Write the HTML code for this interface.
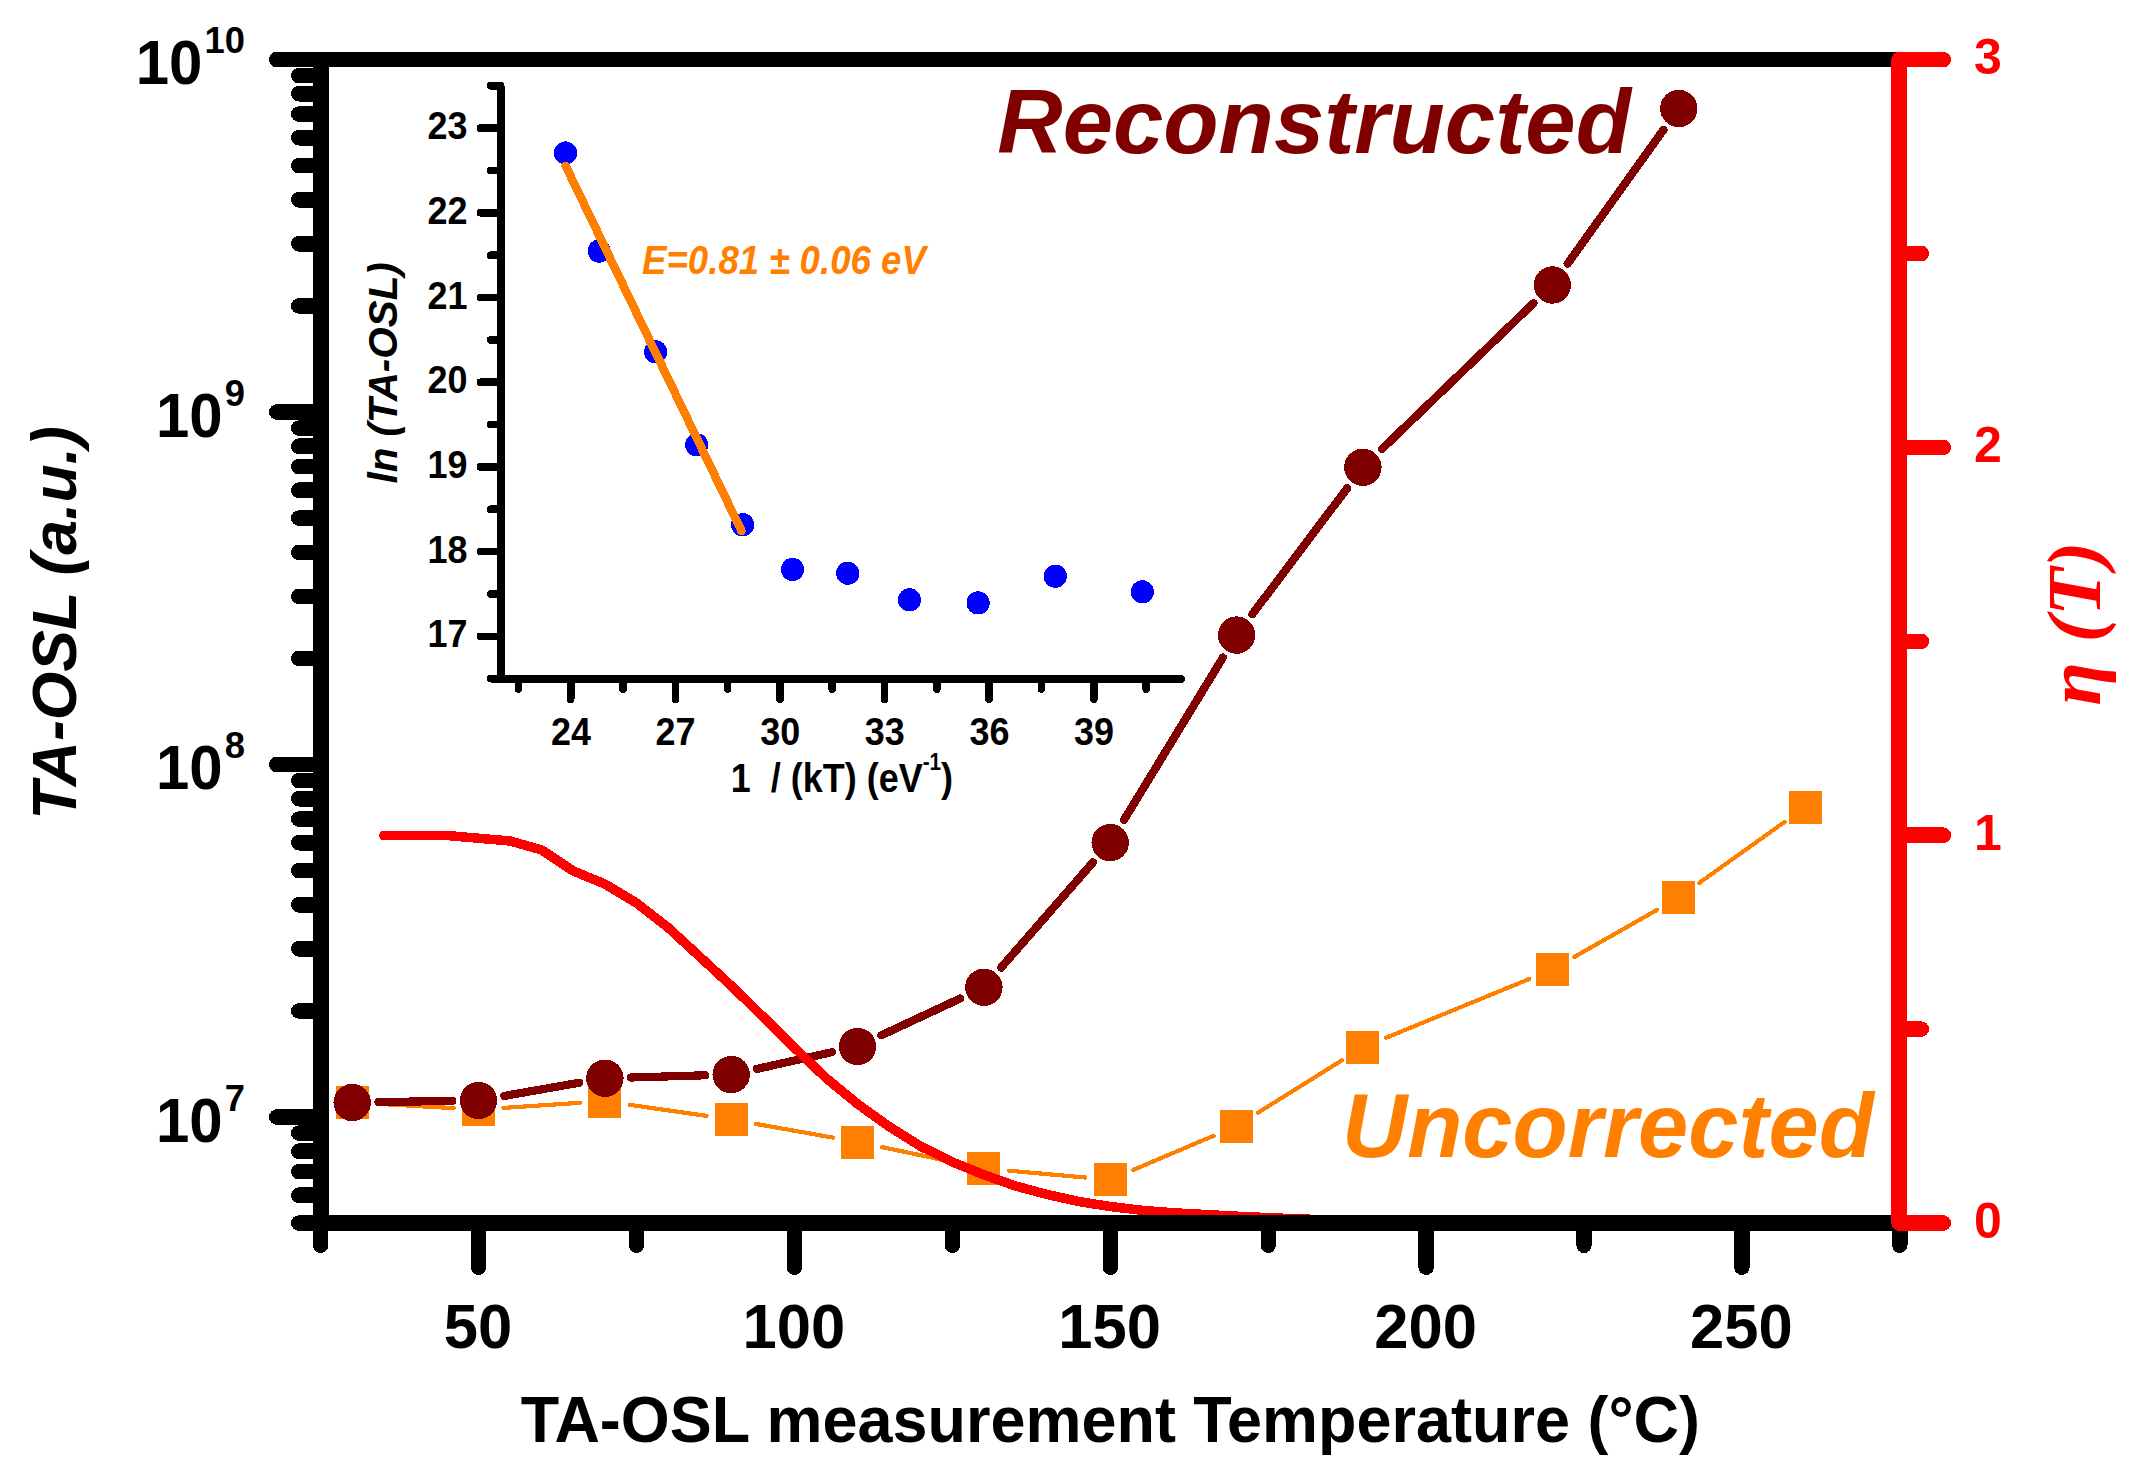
<!DOCTYPE html>
<html lang="en"><head><meta charset="utf-8"><title>TA-OSL</title>
<style>html,body{margin:0;padding:0;background:#fff;}svg{display:block;}text{font-family:"Liberation Sans", Arial, sans-serif;font-weight:bold;}</style>
</head><body>
<svg width="2137" height="1473" viewBox="0 0 2137 1473">
<rect x="0" y="0" width="2137" height="1473" fill="#ffffff"/>
<g shape-rendering="crispEdges">
<path d="M377.1 1103.8L453.6 1108.1M503.5 1107.9L579.9 1102.8M629.6 1104.8L706.5 1115.9M755.8 1123.9L832.9 1137.6M882.0 1147.1L959.4 1163.4M1008.8 1170.7L1085.3 1177.5M1133.2 1169.9L1213.6 1135.8M1257.8 1112.8L1341.7 1060.5M1386.0 1037.8L1529.3 979.0M1574.1 957.1L1657.0 909.9M1699.1 883.0L1784.7 821.9" fill="none" stroke="#ff8000" stroke-width="4.2" stroke-linecap="round"/>
<rect x="335.7" y="1085.9" width="33" height="33" fill="#ff8000"/>
<rect x="462.0" y="1093.0" width="33" height="33" fill="#ff8000"/>
<rect x="588.4" y="1084.7" width="33" height="33" fill="#ff8000"/>
<rect x="714.7" y="1103.0" width="33" height="33" fill="#ff8000"/>
<rect x="841.0" y="1125.5" width="33" height="33" fill="#ff8000"/>
<rect x="967.4" y="1152.0" width="33" height="33" fill="#ff8000"/>
<rect x="1093.7" y="1163.2" width="33" height="33" fill="#ff8000"/>
<rect x="1220.1" y="1109.5" width="33" height="33" fill="#ff8000"/>
<rect x="1346.4" y="1030.8" width="33" height="33" fill="#ff8000"/>
<rect x="1535.9" y="953.0" width="33" height="33" fill="#ff8000"/>
<rect x="1662.3" y="881.0" width="33" height="33" fill="#ff8000"/>
<rect x="1788.6" y="790.9" width="33" height="33" fill="#ff8000"/>
<path d="M378.5 1102.1L452.2 1100.9M504.4 1095.9L579.0 1082.8M631.2 1077.5L704.9 1075.3M756.9 1068.9L831.9 1052.2M881.4 1035.3L960.1 998.5M1001.2 967.5L1092.9 862.4M1123.9 820.1L1222.9 657.6M1252.4 614.1L1347.1 488.3M1381.9 449.1L1533.5 303.2M1567.7 263.6L1663.4 129.9" fill="none" stroke="#800000" stroke-width="8.2" stroke-linecap="round"/>
<circle cx="352.2" cy="1102.5" r="18.7" fill="#800000"/>
<circle cx="478.5" cy="1100.5" r="18.7" fill="#800000"/>
<circle cx="604.9" cy="1078.2" r="18.7" fill="#800000"/>
<circle cx="731.2" cy="1074.6" r="18.7" fill="#800000"/>
<circle cx="857.5" cy="1046.5" r="18.7" fill="#800000"/>
<circle cx="983.9" cy="987.3" r="18.7" fill="#800000"/>
<circle cx="1110.2" cy="842.6" r="18.7" fill="#800000"/>
<circle cx="1236.6" cy="635.1" r="18.7" fill="#800000"/>
<circle cx="1362.9" cy="467.3" r="18.7" fill="#800000"/>
<circle cx="1552.4" cy="285.0" r="18.7" fill="#800000"/>
<circle cx="1678.8" cy="108.5" r="18.7" fill="#800000"/>
</g>
<path d="M383.8 835.5L446.9 835.5L510.1 841.0L541.7 850.0L573.3 871.0L604.9 884.0L636.5 903.0L668.0 927.5L699.6 956.5L731.2 985.8L762.8 1016.5L794.4 1047.8L826.0 1078.0L857.5 1103.9L889.1 1126.6L920.7 1146.3L952.3 1162.0L983.9 1174.8L1015.5 1186.0L1047.1 1194.5L1078.6 1201.5L1110.2 1206.5L1141.8 1210.3L1173.4 1212.8L1236.6 1216.2L1299.7 1219.0L1362.9 1220.6L1426.1 1221.8L1520.8 1222.5" fill="none" stroke="#ff0000" stroke-width="9.5" stroke-linecap="round" stroke-linejoin="round" shape-rendering="crispEdges"/>
<g stroke="#000" stroke-linecap="round" fill="none" shape-rendering="crispEdges">
<path stroke-width="15.8" d="M321.0 59.5H276.9M321.0 412.0H276.9M321.0 764.5H276.9M321.0 1117.0H276.9"/>
<path stroke-width="15.6" d="M321.0 305.9H298.8M321.0 243.8H298.8M321.0 199.8H298.8M321.0 165.6H298.8M321.0 137.7H298.8M321.0 114.1H298.8M321.0 93.7H298.8M321.0 75.6H298.8M321.0 658.4H298.8M321.0 596.3H298.8M321.0 552.3H298.8M321.0 518.1H298.8M321.0 490.2H298.8M321.0 466.6H298.8M321.0 446.2H298.8M321.0 428.1H298.8M321.0 1010.9H298.8M321.0 948.8H298.8M321.0 904.8H298.8M321.0 870.6H298.8M321.0 842.7H298.8M321.0 819.1H298.8M321.0 798.7H298.8M321.0 780.6H298.8M321.0 1223.1H298.8M321.0 1195.2H298.8M321.0 1171.6H298.8M321.0 1151.2H298.8M321.0 1133.1H298.8"/>
<path stroke-width="15.4" d="M478.5 1223.0V1267.3M794.4 1223.0V1267.3M1110.2 1223.0V1267.3M1426.1 1223.0V1267.3M1741.9 1223.0V1267.3"/>
<path stroke-width="15.4" d="M320.6 1223.0V1245.3M636.5 1223.0V1245.3M952.3 1223.0V1245.3M1268.2 1223.0V1245.3M1584.0 1223.0V1245.3M1899.8 1223.0V1245.3"/>
</g>
<g stroke="#000" stroke-linecap="butt" fill="none" shape-rendering="crispEdges">
<line x1="313" y1="59.5" x2="1899.0" y2="59.5" stroke-width="15"/>
<line x1="313" y1="1223.0" x2="1899.0" y2="1223.0" stroke-width="16"/>
<line x1="321.0" y1="52" x2="321.0" y2="1231" stroke-width="16"/>
</g>
<g stroke="#ff0000" stroke-linecap="round" fill="none" shape-rendering="crispEdges">
<path stroke-width="15.5" d="M1899.0 1223.0H1943.3M1899.0 835.2H1943.3M1899.0 447.4H1943.3M1899.0 59.6H1943.3"/>
<path stroke-width="15.5" d="M1899.0 1029.1H1921.3M1899.0 641.3H1921.3M1899.0 253.5H1921.3"/>
<line x1="1899.2" y1="59.5" x2="1899.2" y2="1223.0" stroke-width="15.8"/>
</g>
<text transform="translate(202.4 84.0) scale(0.9550 1)" text-anchor="end" font-size="62.8">10</text>
<text transform="translate(204.4 53.0) scale(0.9700 1)" text-anchor="start" font-size="37.5">10</text>
<text transform="translate(222.7 436.5) scale(0.9550 1)" text-anchor="end" font-size="62.8">10</text>
<text transform="translate(224.7 405.5) scale(0.9700 1)" text-anchor="start" font-size="37.5">9</text>
<text transform="translate(222.7 789.0) scale(0.9550 1)" text-anchor="end" font-size="62.8">10</text>
<text transform="translate(224.7 758.0) scale(0.9700 1)" text-anchor="start" font-size="37.5">8</text>
<text transform="translate(222.7 1141.5) scale(0.9550 1)" text-anchor="end" font-size="62.8">10</text>
<text transform="translate(224.7 1110.5) scale(0.9700 1)" text-anchor="start" font-size="37.5">7</text>
<text transform="translate(478.0 1347.8) scale(0.9850 1)" text-anchor="middle" font-size="62.5">50</text>
<text transform="translate(793.9 1347.8) scale(0.9850 1)" text-anchor="middle" font-size="62.5">100</text>
<text transform="translate(1109.7 1347.8) scale(0.9850 1)" text-anchor="middle" font-size="62.5">150</text>
<text transform="translate(1425.6 1347.8) scale(0.9850 1)" text-anchor="middle" font-size="62.5">200</text>
<text transform="translate(1741.4 1347.8) scale(0.9850 1)" text-anchor="middle" font-size="62.5">250</text>
<text transform="translate(1110.3 1442.3) scale(0.9760 1)" text-anchor="middle" font-size="64.5">TA-OSL measurement Temperature (°C)</text>
<text transform="translate(75.5 623) rotate(-90)" text-anchor="middle" font-size="62.5" font-style="italic">TA-OSL (a.u.)</text>
<text transform="translate(1974.0 1237.5) scale(1.0000 1)" text-anchor="start" font-size="50" fill="#ff0000">0</text>
<text transform="translate(1974.0 849.7) scale(1.0000 1)" text-anchor="start" font-size="50" fill="#ff0000">1</text>
<text transform="translate(1974.0 461.9) scale(1.0000 1)" text-anchor="start" font-size="50" fill="#ff0000">2</text>
<text transform="translate(1974.0 74.1) scale(1.0000 1)" text-anchor="start" font-size="50" fill="#ff0000">3</text>
<text transform="translate(2100 623.5) rotate(-90) scale(1.04 1)" text-anchor="middle" font-size="76" font-style="italic" fill="#ff0000" style="font-family:'Liberation Serif', 'Times New Roman', serif">η (T)</text>
<text transform="translate(997.3 152.8) scale(1.0000 1)" text-anchor="start" font-size="90.5" font-style="italic" fill="#800000">Reconstructed</text>
<text transform="translate(1342.0 1156.6) scale(1.0000 1)" text-anchor="start" font-size="90.3" font-style="italic" fill="#ff8000">Uncorrected</text>
<g shape-rendering="crispEdges">
<circle cx="565.5" cy="153.0" r="11.6" fill="#0000ff"/>
<circle cx="599.2" cy="251.1" r="11.6" fill="#0000ff"/>
<circle cx="655.6" cy="351.9" r="11.6" fill="#0000ff"/>
<circle cx="696.7" cy="444.8" r="11.6" fill="#0000ff"/>
<circle cx="742.6" cy="524.7" r="11.6" fill="#0000ff"/>
<circle cx="792.5" cy="569.4" r="11.6" fill="#0000ff"/>
<circle cx="847.8" cy="573.2" r="11.6" fill="#0000ff"/>
<circle cx="909.4" cy="599.9" r="11.6" fill="#0000ff"/>
<circle cx="978.1" cy="602.9" r="11.6" fill="#0000ff"/>
<circle cx="1055.3" cy="576.2" r="11.6" fill="#0000ff"/>
<circle cx="1142.3" cy="591.9" r="11.6" fill="#0000ff"/>
<line x1="565.7" y1="166" x2="741.5" y2="531" stroke="#ff8000" stroke-width="8.5" stroke-linecap="round"/>
<g stroke="#000" stroke-width="7.6" stroke-linecap="round" fill="none">
<path d="M500.7 636.3H480.4M500.7 551.6H480.4M500.7 466.9H480.4M500.7 382.2H480.4M500.7 297.5H480.4M500.7 212.8H480.4M500.7 128.1H480.4"/>
<path d="M500.7 678.7H490.6M500.7 594.0H490.6M500.7 509.2H490.6M500.7 424.5H490.6M500.7 339.9H490.6M500.7 255.2H490.6M500.7 170.4H490.6M500.7 85.8H490.6"/>
<path d="M570.7 679V699.3M675.3 679V699.3M779.9 679V699.3M884.5 679V699.3M989.1 679V699.3M1093.8 679V699.3"/>
<path d="M518.4 679V689M623.0 679V689M727.6 679V689M832.2 679V689M936.8 679V689M1041.4 679V689M1146.1 679V689"/>
<path d="M500.7 85.8V679H1181.2" stroke-linejoin="miter"/>
</g></g>
<text transform="translate(467.5 647.3) scale(0.9100 1)" text-anchor="end" font-size="39.5">17</text>
<text transform="translate(467.5 562.6) scale(0.9100 1)" text-anchor="end" font-size="39.5">18</text>
<text transform="translate(467.5 477.9) scale(0.9100 1)" text-anchor="end" font-size="39.5">19</text>
<text transform="translate(467.5 393.2) scale(0.9100 1)" text-anchor="end" font-size="39.5">20</text>
<text transform="translate(467.5 308.5) scale(0.9100 1)" text-anchor="end" font-size="39.5">21</text>
<text transform="translate(467.5 223.8) scale(0.9100 1)" text-anchor="end" font-size="39.5">22</text>
<text transform="translate(467.5 139.1) scale(0.9100 1)" text-anchor="end" font-size="39.5">23</text>
<text transform="translate(571.0 745.2) scale(0.9100 1)" text-anchor="middle" font-size="39.5">24</text>
<text transform="translate(675.6 745.2) scale(0.9100 1)" text-anchor="middle" font-size="39.5">27</text>
<text transform="translate(780.2 745.2) scale(0.9100 1)" text-anchor="middle" font-size="39.5">30</text>
<text transform="translate(884.8 745.2) scale(0.9100 1)" text-anchor="middle" font-size="39.5">33</text>
<text transform="translate(989.4 745.2) scale(0.9100 1)" text-anchor="middle" font-size="39.5">36</text>
<text transform="translate(1094.0 745.2) scale(0.9100 1)" text-anchor="middle" font-size="39.5">39</text>
<text transform="translate(841.9 792) scale(0.9 1)" text-anchor="middle" font-size="40" xml:space="preserve">1  / (kT) (eV<tspan font-size="23" dy="-22">-1</tspan><tspan dy="22">)</tspan></text>
<text transform="translate(396.8 372.9) rotate(-90)" text-anchor="middle" font-size="40.4" font-style="italic">ln (TA-OSL)</text>
<text transform="translate(642.0 273.7) scale(0.9050 1)" text-anchor="start" font-size="40.5" font-style="italic" fill="#ff8000">E=0.81 ± 0.06 eV</text>
</svg></body></html>
